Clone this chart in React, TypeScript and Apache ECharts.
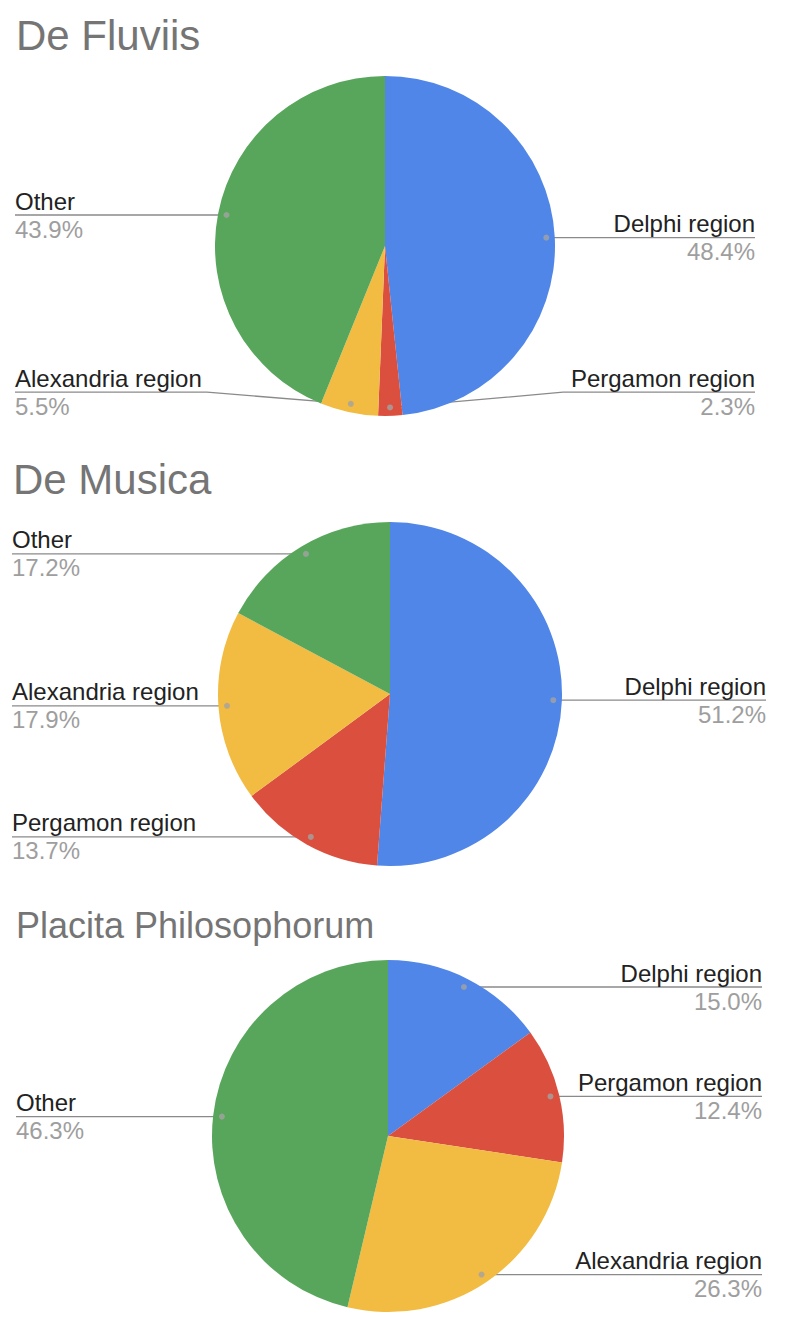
import React, { useEffect, useRef } from "react";
import * as echarts from "echarts";

const regions = ["Delphi region", "Pergamon region", "Alexandria region", "Other"];
const regionColors = ["#4f86e8", "#db4f3e", "#f2bb42", "#58a65b"];

const titles = ["De Fluviis", "De Musica", "Placita Philosophorum"];
const deFluviis = [48.4, 2.3, 5.5, 43.9];
const deMusica = [51.2, 13.7, 17.9, 17.2];
const placita = [15.0, 12.4, 26.3, 46.3];
const chartValues = [deFluviis, deMusica, placita];

const FONT = "'Liberation Sans', Arial, Helvetica, sans-serif";

// layout of each panel (pixels)
const panels = [
  { cx: 385, cy: 246, r: 170, left: 15, right: 755, titleX: 16, titleY: 14, titleSize: 42 },
  { cx: 390, cy: 694, r: 172, left: 12, right: 766, titleX: 13, titleY: 458, titleSize: 42 },
  { cx: 388, cy: 1136, r: 176, left: 16, right: 762, titleX: 16, titleY: 907, titleSize: 36 },
];

function midPercents(vals: number[]): number[] {
  const total = vals.reduce((a, b) => a + b, 0);
  const out: number[] = [];
  let acc = 0;
  for (const v of vals) {
    out.push(((acc + v / 2) / total) * 100);
    acc += v;
  }
  return out;
}

export default function App() {
  const ref = useRef<HTMLDivElement>(null);
  useEffect(() => {
    document.body.style.margin = "0";
    if (!ref.current) return;
    const chart = echarts.init(ref.current, undefined, { renderer: "svg" });

    const title: any[] = [];
    const series: any[] = [];
    const polar: any[] = [];
    const angleAxis: any[] = [];
    const radiusAxis: any[] = [];

    panels.forEach((p, k) => {
      const vals = chartValues[k];
      const mids = midPercents(vals);
      title.push({
        text: titles[k],
        left: p.titleX,
        top: p.titleY,
        padding: 0,
        textStyle: { fontSize: p.titleSize, fontWeight: "normal", color: "#757575", fontFamily: FONT },
      });
      series.push({
        type: "pie",
        center: [p.cx, p.cy],
        radius: [0, p.r],
        startAngle: 90,
        clockwise: true,
        avoidLabelOverlap: false,
        data: regions.map((name, i) => ({ name, value: vals[i], itemStyle: { color: regionColors[i] } })),
        label: {
          show: true,
          position: "outside",
          formatter: (prm: any) => `{n|${prm.name}}\n{p|${vals[prm.dataIndex].toFixed(1)}%}`,
          rich: {
            n: { fontSize: 24, color: "#222222", lineHeight: 28, fontFamily: FONT },
            p: { fontSize: 24, color: "#9e9e9e", lineHeight: 28, fontFamily: FONT },
          },
        },
        labelLine: { show: true, length: 5, length2: 5, lineStyle: { color: "#8a8a8a", width: 1.3 } },
        labelLayout: (prm: any) => {
          const i = prm.dataIndex;
          const theta = (mids[i] / 100) * 2 * Math.PI;
          const dx = Math.sin(theta);
          const dy = -Math.cos(theta);
          const dot = [p.cx + 0.95 * p.r * dx, p.cy + 0.95 * p.r * dy];
          const isRight = dx >= 0;
          const lineY = Math.max(Math.min(dot[1], p.cy + 0.86 * p.r), p.cy - 0.9 * p.r);
          const bendX = p.cx + (isRight ? 1 : -1) * (p.r + 8);
          const edgeX = isRight ? p.right : p.left;
          return {
            x: edgeX,
            y: lineY,
            align: isRight ? "right" : "left",
            verticalAlign: "middle",
            labelLinePoints: [dot, [bendX, lineY], [edgeX, lineY]],
          };
        },
        emphasis: { disabled: true },
        silent: true,
      });
      polar.push({ center: [p.cx, p.cy], radius: p.r });
      angleAxis.push({ polarIndex: k, type: "value", min: 0, max: 100, startAngle: 90, clockwise: true, show: false });
      radiusAxis.push({ polarIndex: k, type: "value", min: 0, max: 1, show: false });
      series.push({
        type: "scatter",
        coordinateSystem: "polar",
        polarIndex: k,
        symbol: "circle",
        symbolSize: 6,
        itemStyle: { color: "#a3a3a3" },
        z: 5,
        silent: true,
        data: mids.map((m) => [0.95, m]),
      });
    });

    chart.setOption({
      animation: false,
      backgroundColor: "#ffffff",
      title,
      polar,
      angleAxis,
      radiusAxis,
      series,
    });
    return () => chart.dispose();
  }, []);
  return <div ref={ref} style={{ width: 798, height: 1330 }} />;
}
